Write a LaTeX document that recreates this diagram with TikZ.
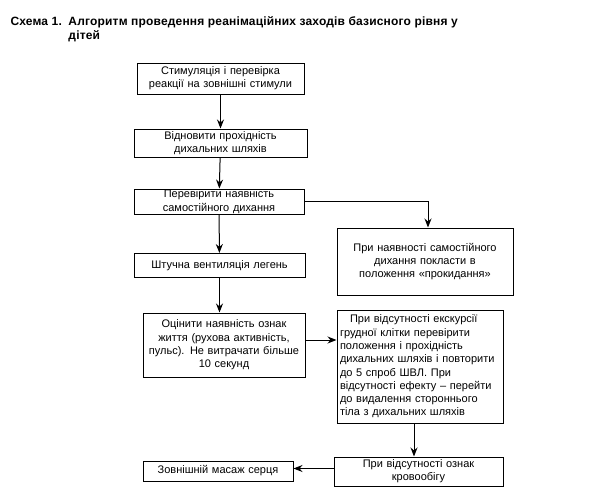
\documentclass[tikz,border=0pt]{standalone}
\usepackage{fontspec}
\setmainfont{Liberation Sans}
\newfontfamily\titlefont[LetterSpace=1.5]{Liberation Sans}
\usetikzlibrary{arrows.meta}

\begin{document}
\begin{tikzpicture}[x=1pt,y=-1pt,line width=1pt,
    >={Stealth[length=9pt,width=7pt]}]

      \useasboundingbox (0,0) rectangle (598,496);

      \node[anchor=north west, inner sep=0pt, font=\titlefont\bfseries\fontsize{12}{14}\selectfont]
        (title) at (10,15) {\begin{tabular}{@{}p{58pt}@{}l@{}}Схема 1. & Алгоритм проведення реанімаційних заходів базисного рівня у\\ & дітей\end{tabular}};

      \begin{scope}[every node/.style={rectangle, draw, inner xsep=1pt, inner ysep=0pt, align=center,
          font=\fontsize{11}{13.3}\selectfont}]
        \node[minimum width=167, minimum height=31, text width=163] (1) at (220.5,78.5)
          {Стимуляція і перевірка\\ реакції на зовнішні стимули};
        \node[minimum width=173, minimum height=28, text width=169] (2) at (220.5,143)
          {Відновити прохідність\\ дихальних шляхів};
        \node[minimum width=170, minimum height=25, text width=166] (3) at (219,201.5)
          {Перевірити наявність\\ самостійного дихання};
        \node[minimum width=171, minimum height=24, text width=167] (4) at (219.5,265.5)
          {Штучна вентиляція легень};
        \node[minimum width=176, minimum height=67, text width=170] (5) at (425,261.5)
          {При наявності самостійного\\ дихання покласти в\\ положення «прокидання»};
        \node[minimum width=162, minimum height=64, text width=158] (6) at (224,345)
          {Оцінити наявність ознак\\ життя (рухова активність,\\ пульс). Не витрачати більше\\ 10 секунд};
        \node[minimum width=166, minimum height=113, text width=160, align=left] (7) at (420,366.5)
          {\hspace*{10pt}При відсутності екскурсії\\ грудної клітки перевірити\\ положення і прохідність\\ дихальних шляхів і повторити\\ до 5 спроб ШВЛ. При\\ відсутності ефекту -- перейти\\ до видалення стороннього\\ тіла з дихальних шляхів};
        \node[minimum width=169, minimum height=29, text width=165] (8) at (418.5,471.5)
          {При відсутності ознак\\ кровообігу};
        \node[minimum width=150, minimum height=20, text width=146] (9) at (218,471)
          {Зовнішній масаж серця};
      \end{scope}

      \begin{scope}[every edge/.style={draw,->}]
        \path (1) edge (2);
        \path (2) edge (3);
        \path (3) edge (4);
        \path (4.south) edge (4.south |- 6.north);
        \path ([yshift=5pt]6.east) edge ([yshift=5pt]6.east -| 7.west);
        \path ([xshift=-6pt]7.south) edge ([xshift=-6pt]7.south |- 8.north);
        \path ([yshift=3pt]8.west) edge ([yshift=3pt]8.west -| 9.east);
      \end{scope}
      \draw[->] (3.east) -| ([xshift=3pt]5.north);

    \end{tikzpicture}
\end{document}
